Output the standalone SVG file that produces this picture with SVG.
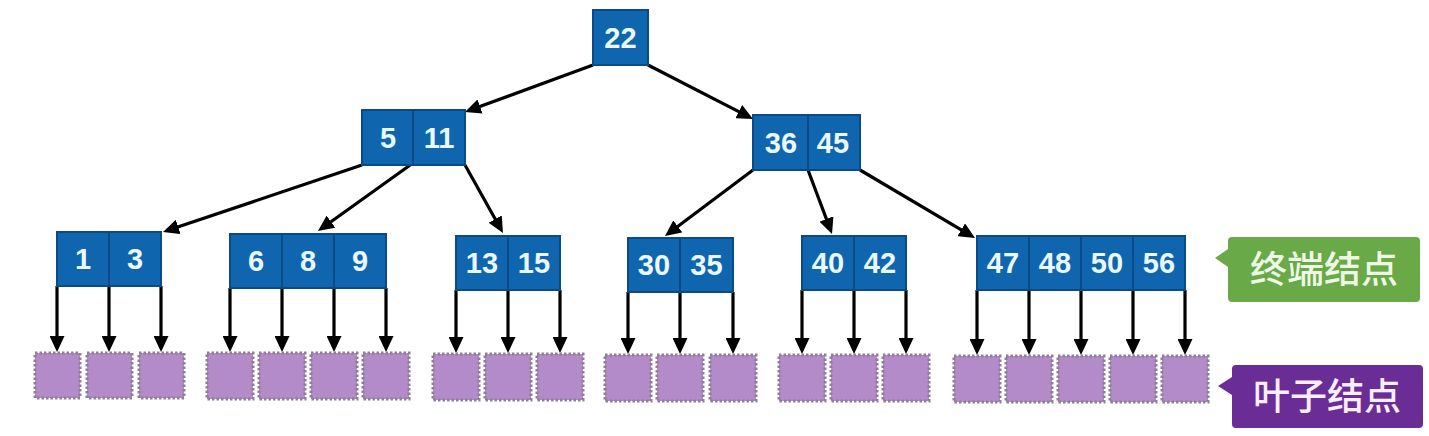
<svg xmlns="http://www.w3.org/2000/svg" width="1429" height="436" viewBox="0 0 1429 436">
<defs>
<marker id="ah" viewBox="0 0 16 15" markerWidth="16" markerHeight="15" refX="6" refY="7.5" orient="auto" markerUnits="userSpaceOnUse">
<path d="M0,0 L16,7.5 L0,15 z" fill="#000"/>
</marker>
<style>
.cell{fill:#0f66ae;stroke:#0a4a86;stroke-width:2}
.key{font-family:"Liberation Sans",Arial,sans-serif;font-weight:bold;font-size:29px;fill:#eaf8ff;text-anchor:middle}
.leaf{fill:#b38bc8;stroke:#8f7e98;stroke-width:3;stroke-dasharray:2.5 2}
.edge{stroke:#000;stroke-width:3.2;fill:none;marker-end:url(#ah)}
.tag{font-family:"Noto Sans CJK SC",sans-serif;font-weight:500;font-size:37px;text-anchor:middle}
</style>
</defs>
<rect width="1429" height="436" fill="#fff"/>

<g id="connectors">
<line class="edge" x1="593" y1="65" x2="474.4" y2="108.6"/>
<line class="edge" x1="648" y1="65" x2="744.1" y2="114.4"/>
<line class="edge" x1="362" y1="165" x2="172.5" y2="228.8"/>
<line class="edge" x1="413" y1="163" x2="326.1" y2="225.2"/>
<line class="edge" x1="465" y1="165" x2="498.1" y2="224.3"/>
<line class="edge" x1="753" y1="170" x2="673" y2="230"/>
<line class="edge" x1="808" y1="170" x2="828.5" y2="224.6"/>
<line class="edge" x1="860" y1="170" x2="966.4" y2="232.9"/>
<line class="edge" x1="57" y1="286" x2="57" y2="342"/>
<line class="edge" x1="109" y1="286" x2="109" y2="342"/>
<line class="edge" x1="161" y1="286" x2="161" y2="342"/>
<line class="edge" x1="230" y1="288" x2="230" y2="342"/>
<line class="edge" x1="282" y1="288" x2="282" y2="342"/>
<line class="edge" x1="334" y1="288" x2="334" y2="342"/>
<line class="edge" x1="386" y1="288" x2="386" y2="342"/>
<line class="edge" x1="456" y1="290" x2="456" y2="343"/>
<line class="edge" x1="508" y1="290" x2="508" y2="343"/>
<line class="edge" x1="560" y1="290" x2="560" y2="343"/>
<line class="edge" x1="628" y1="292" x2="628" y2="344"/>
<line class="edge" x1="680" y1="292" x2="680" y2="344"/>
<line class="edge" x1="733" y1="292" x2="733" y2="344"/>
<line class="edge" x1="802" y1="290" x2="802" y2="344"/>
<line class="edge" x1="854" y1="290" x2="854" y2="344"/>
<line class="edge" x1="906" y1="290" x2="906" y2="344"/>
<line class="edge" x1="977" y1="290" x2="977" y2="345"/>
<line class="edge" x1="1029" y1="290" x2="1029" y2="345"/>
<line class="edge" x1="1081" y1="290" x2="1081" y2="345"/>
<line class="edge" x1="1133" y1="290" x2="1133" y2="345"/>
<line class="edge" x1="1185" y1="290" x2="1185" y2="345"/>
</g>

<g id="n22"><rect class="cell" x="593" y="10" width="55" height="55"/><text class="key" x="620.5" y="48">22</text></g>

<g id="n5_11">
<rect class="cell" x="362" y="110" width="51" height="55"/><rect class="cell" x="413" y="110" width="52" height="55"/>
<text class="key" x="388" y="148">5</text><text class="key" x="439" y="148">11</text>
</g>

<g id="n36_45">
<rect class="cell" x="753" y="115" width="55" height="55"/><rect class="cell" x="808" y="115" width="52" height="55"/>
<text class="key" x="781" y="153">36</text><text class="key" x="833" y="153">45</text>
</g>

<g id="n1_3">
<rect class="cell" x="57" y="232" width="52" height="54"/><rect class="cell" x="109" y="232" width="52" height="54"/>
<text class="key" x="83" y="269">1</text><text class="key" x="135" y="269">3</text>
</g>

<g id="n6_8_9">
<rect class="cell" x="230" y="234" width="52" height="54"/><rect class="cell" x="282" y="234" width="52" height="54"/><rect class="cell" x="334" y="234" width="52" height="54"/>
<text class="key" x="256" y="271">6</text><text class="key" x="308" y="271">8</text><text class="key" x="360" y="271">9</text>
</g>

<g id="n13_15">
<rect class="cell" x="456" y="236" width="52" height="54"/><rect class="cell" x="508" y="236" width="52" height="54"/>
<text class="key" x="482" y="273">13</text><text class="key" x="534" y="273">15</text>
</g>

<g id="n30_35">
<rect class="cell" x="628" y="238" width="52" height="54"/><rect class="cell" x="680" y="238" width="53" height="54"/>
<text class="key" x="654" y="275">30</text><text class="key" x="706.5" y="275">35</text>
</g>

<g id="n40_42">
<rect class="cell" x="802" y="236" width="52" height="54"/><rect class="cell" x="854" y="236" width="52" height="54"/>
<text class="key" x="828" y="273">40</text><text class="key" x="880" y="273">42</text>
</g>

<g id="n47_56">
<rect class="cell" x="977" y="236" width="52" height="54"/><rect class="cell" x="1029" y="236" width="52" height="54"/><rect class="cell" x="1081" y="236" width="52" height="54"/><rect class="cell" x="1133" y="236" width="52" height="54"/>
<text class="key" x="1003" y="273">47</text><text class="key" x="1055" y="273">48</text><text class="key" x="1107" y="273">50</text><text class="key" x="1159" y="273">56</text>
</g>

<g id="leaves">
<rect class="leaf" x="35" y="353" width="45" height="45"/>
<rect class="leaf" x="87" y="353" width="45" height="45"/>
<rect class="leaf" x="139" y="353" width="45" height="45"/>
<rect class="leaf" x="207" y="353" width="46" height="46"/>
<rect class="leaf" x="259" y="353" width="46" height="46"/>
<rect class="leaf" x="311" y="353" width="46" height="46"/>
<rect class="leaf" x="363" y="353" width="46" height="46"/>
<rect class="leaf" x="433" y="354" width="46" height="46"/>
<rect class="leaf" x="485" y="354" width="46" height="46"/>
<rect class="leaf" x="537" y="354" width="46" height="46"/>
<rect class="leaf" x="605" y="355" width="46" height="46"/>
<rect class="leaf" x="657" y="355" width="46" height="46"/>
<rect class="leaf" x="710" y="355" width="46" height="46"/>
<rect class="leaf" x="779" y="355" width="46" height="46"/>
<rect class="leaf" x="831" y="355" width="46" height="46"/>
<rect class="leaf" x="883" y="355" width="46" height="46"/>
<rect class="leaf" x="954" y="356" width="46" height="46"/>
<rect class="leaf" x="1006" y="356" width="46" height="46"/>
<rect class="leaf" x="1058" y="356" width="46" height="46"/>
<rect class="leaf" x="1110" y="356" width="46" height="46"/>
<rect class="leaf" x="1162" y="356" width="46" height="46"/>
</g>

<g id="tag_terminal">
<path d="M1232,237 H1416 Q1420,237 1420,241 V298 Q1420,302 1416,302 H1232 Q1228,302 1228,298 V267 L1215,258 L1228,249 V241 Q1228,237 1232,237 z" fill="#6aa947"/>
<text class="tag" x="1324" y="283" fill="#eef8e6">终端结点</text>
</g>

<g id="tag_leaf">
<path d="M1236,365 H1419 Q1423,365 1423,369 V424 Q1423,428 1419,428 H1236 Q1232,428 1232,424 V395 L1218,386 L1232,377 V369 Q1232,365 1236,365 z" fill="#6a2d96"/>
<text class="tag" x="1327" y="410" fill="#fbeefc">叶子结点</text>
</g>
</svg>
